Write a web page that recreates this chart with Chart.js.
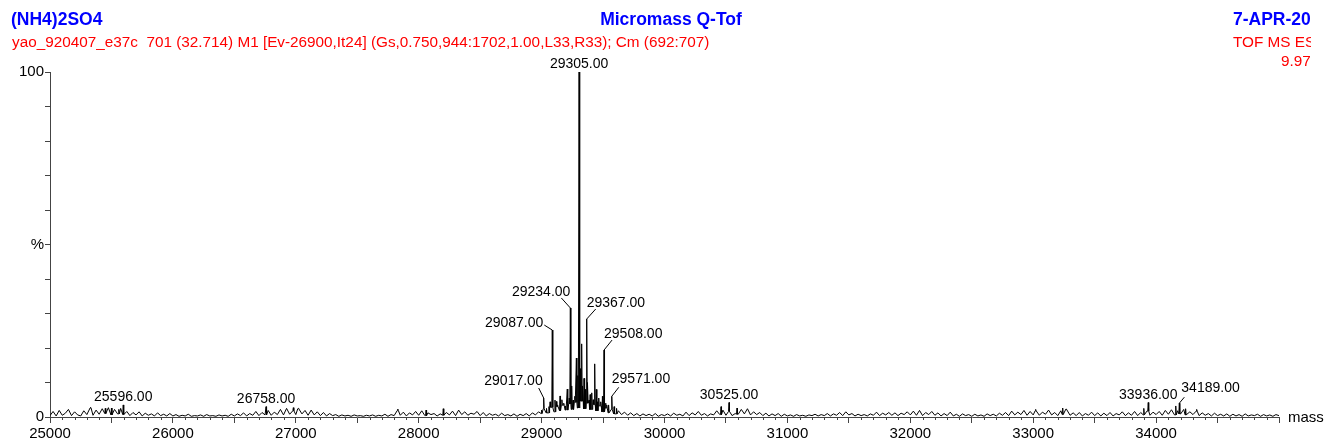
<!DOCTYPE html>
<html>
<head>
<meta charset="utf-8">
<title>Micromass Q-Tof spectrum</title>
<script src="https://cdn.jsdelivr.net/npm/chart.js@4.4.1/dist/chart.umd.min.js"></script>
<style>
  html, body { margin: 0; padding: 0; background: #fff; }
  #wrap { position: relative; width: 1325px; height: 443px; }
</style>
</head>
<body>
<div id="wrap"><canvas id="spec"></canvas></div>
<script>
// ---- data ----
const massMin   = 25000;
const massMax   = 35000;
const noiseStep = 25;

// background noise, % intensity, one value every 25 Da from 25000 to 35000
const noise = [
  0.4,1.6,0.3,1.9,0.5,1.1,2.2,0.4,1.5,0.6, 0.3,1.8,0.7,2.6,0.5,2.0,0.8,2.4,1.0,2.7, 0.6,2.2,0.9,2.5,0.7,1.6,0.4,1.3,0.6,1.5, 0.3,1.1,0.5,0.9,0.3,1.2,0.4,0.8,0.3,1.0,
  0.3,0.7,0.2,0.5,0.3,0.8,0.2,0.4,0.3,0.6, 0.2,0.7,0.3,0.4,0.2,0.6,0.3,0.5,0.2,0.8, 0.3,0.9,0.4,1.2,0.3,1.0,0.5,1.6,0.4,1.3, 0.6,1.9,0.5,1.4,0.7,2.2,0.6,2.5,0.8,1.8,
  0.7,2.4,0.9,1.9,0.5,2.0,0.6,1.5,0.4,1.3, 0.3,1.0,0.4,0.7,0.2,0.6,0.3,0.5,0.2,0.6, 0.3,0.4,0.2,0.5,0.3,0.6,0.2,0.5,0.3,0.8, 0.2,0.7,0.4,1.9,0.5,1.4,0.3,1.2,0.6,1.6,
  0.5,1.8,0.4,1.2,0.7,1.0,0.3,0.9,0.5,1.3, 0.6,1.7,0.4,2.0,0.7,1.5,0.5,1.1,0.8,1.6, 0.4,1.3,0.3,1.0,0.5,0.8,0.3,1.1,0.4,0.7, 0.3,0.9,0.2,0.8,0.4,1.0,0.3,1.2,0.6,1.5,
  1.0,2.4,1.2,2.8,1.5,3.0,1.8,3.4,2.0,3.8, 2.2,4.2,2.6,4.6,2.4,4.0,2.2,3.6,1.8,3.2, 1.5,2.6,1.2,2.2,0.9,1.8,0.7,1.4,0.5,1.2, 0.4,1.0,0.3,0.9,0.4,0.8,0.3,1.0,0.2,0.7,
  0.4,0.9,0.3,1.1,0.5,0.8,0.3,1.4,0.4,1.2, 0.6,1.6,0.5,1.0,0.3,0.9,0.6,1.8,0.7,2.0, 0.5,1.6,0.4,1.0,0.8,2.2,0.9,2.4,0.6,1.5, 0.7,1.3,0.4,1.1,0.3,0.9,0.4,1.0,0.2,0.8,
  0.3,0.6,0.2,0.7,0.3,0.5,0.2,0.6,0.4,0.8, 0.3,0.7,0.4,1.0,0.3,0.9,0.5,1.3,0.4,1.5, 0.6,1.0,0.3,0.8,0.4,0.7,0.3,0.9,0.5,1.4, 0.4,1.1,0.6,1.3,0.5,1.2,0.4,1.1,0.7,1.5,
  0.6,1.7,0.5,1.9,0.4,1.3,0.7,1.6,0.5,1.2, 0.3,1.0,0.4,1.4,0.3,0.8,0.2,0.9,0.4,0.7, 0.2,0.8,0.3,0.6,0.2,0.9,0.4,0.8,0.3,1.1, 0.5,1.3,0.4,1.7,0.6,1.4,0.7,1.9,0.5,1.6,
  0.6,1.8,0.5,1.4,0.8,2.0,0.6,1.3,0.4,1.8, 0.7,2.3,0.5,1.2,0.4,1.3,0.3,1.0,0.5,1.4, 0.4,1.2,0.3,1.1,0.4,1.3,0.3,1.0,0.6,1.5, 0.4,1.2,0.5,1.6,0.4,1.3,0.6,1.7,0.5,1.4,
  0.7,1.6,0.5,1.9,0.8,2.1,0.6,1.8,0.9,2.2, 0.6,1.5,0.7,1.7,0.4,1.2,0.5,1.0,0.3,1.1, 0.4,0.8,0.3,0.9,0.2,0.8,0.3,0.7,0.2,0.9, 0.3,0.6,0.4,0.8,0.2,0.7,0.3,0.6,0.2,0.7,
  0.4
];

// discrete peaks (mass, % intensity)
const peakMass = [25330, 25450, 25500, 25560, 25596, 26758, 26980, 27020, 27830, 28060, 28200,
                  29000, 29017, 29040, 29060, 29069, 29087, 29109, 29120, 29130, 29150, 29165, 29180,
                  29195, 29209, 29225, 29234, 29245, 29256, 29270, 29283, 29295, 29305, 29315, 29326,
                  29335, 29345, 29355, 29367, 29375, 29386, 29395, 29408, 29420, 29432, 29445, 29454,
                  29465, 29481, 29495, 29508, 29520, 29530, 29545, 29571, 29590, 29610,
                  30460, 30525, 30590, 33020, 33240, 33270, 33900, 33936, 34160, 34189, 34240, 34330];
const peakInt  = [2.8, 2.5, 2.6, 2.2, 3.5, 3.0, 2.7, 2.5, 2.3, 2.0, 2.4,
                  2.0, 5.5, 2.5, 3.0, 4.4, 25.2, 4.9, 4.5, 3.5, 6.1, 5.0, 4.0,
                  3.2, 8.1, 5.5, 31.6, 9.0, 4.9, 6.0, 17.1, 12.0, 100, 14.0, 21.2,
                  9.0, 11.2, 8.0, 28.4, 10.0, 4.9, 6.5, 7.0, 5.0, 15.4, 8.0, 4.4,
                  5.5, 4.4, 6.0, 19.4, 4.0, 3.5, 3.5, 6.0, 3.0, 2.5,
                  3.0, 4.2, 2.6, 2.2, 2.6, 2.3, 2.5, 4.2, 3.2, 4.0, 2.4, 2.2];

const labelMass = [25596, 26758, 29017, 29087, 29234, 29305, 29367, 29508, 29571, 30525, 33936, 34189];
const yTickLabels = { 100: '100', 50: '%', 0: '0' };

// ---- build the profile ----
const pts = [];
noise.forEach((v, i) => {
  const m = massMin + i * noiseStep;
  if (!peakMass.some(p => Math.abs(p - m) < 6)) pts.push({ x: m, y: v });
});
peakMass.forEach((m, i) => {
  const b = noise[Math.round((m - massMin) / noiseStep)];
  pts.push({ x: m - 4, y: b }, { x: m, y: peakInt[i] }, { x: m + 4, y: b });
});
pts.sort((a, b) => a.x - b.x);

const FONT = '"Liberation Sans", Arial, sans-serif';

// label placement: [align, dx, dy, leaderX, leaderY] relative to peak top (px)
const labelPlace = {
  29017: ['right', -1, -13, -5, -10],
  29087: ['right', -9, -3, -8, -5],
  29234: ['right', 0, -12, -9, -10],
  29367: ['left', 0, -12, 9, -10],
  29508: ['left', 0, -12, 8, -10],
  29571: ['left', 0, -13, 7, -9],
  34189: ['left', 2, -11, 5, -6]
};

const peakLabels = {
  id: 'peakLabels',
  afterDatasetsDraw(chart) {
    const { ctx, scales: { x, y } } = chart;
    ctx.save();
    ctx.font = '14px ' + FONT;
    ctx.fillStyle = '#000';
    ctx.strokeStyle = '#000';
    ctx.lineWidth = 1;
    ctx.textBaseline = 'alphabetic';
    labelMass.forEach(m => {
      const h = peakInt[peakMass.indexOf(m)];
      const px = x.getPixelForValue(m), py = y.getPixelForValue(h);
      const txt = m.toFixed(2);
      const pl = labelPlace[m];
      if (!pl) {
        ctx.textAlign = 'center';
        ctx.fillText(txt, px, py - 4);
      } else {
        ctx.textAlign = pl[0];
        ctx.fillText(txt, px + pl[1], py + pl[2]);
        ctx.beginPath();
        ctx.moveTo(px + pl[3], py + pl[4]);
        ctx.lineTo(px, py);
        ctx.stroke();
      }
    });
    ctx.restore();
  }
};

const decor = {
  id: 'decor',
  afterDraw(chart) {
    const { ctx, chartArea, scales: { x } } = chart;
    ctx.save();
    // minor ticks every 100 Da
    ctx.strokeStyle = '#444';
    ctx.lineWidth = 1;
    ctx.beginPath();
    for (let m = massMin; m <= massMax; m += 100) {
      if (m % 500 === 0) continue;
      const px = Math.round(x.getPixelForValue(m)) + 0.5;
      ctx.moveTo(px, chartArea.bottom);
      ctx.lineTo(px, chartArea.bottom + 3);
    }
    ctx.stroke();

    ctx.textBaseline = 'middle';
    ctx.fillStyle = '#000';
    ctx.font = '15px ' + FONT;
    ctx.textAlign = 'left';
    ctx.fillText('mass', chartArea.right + 9, chartArea.bottom + 1);

    ctx.fillStyle = '#0000ff';
    ctx.font = 'bold 17.5px ' + FONT;
    ctx.fillText('(NH4)2SO4', 11, 20);
    ctx.textAlign = 'center';
    ctx.fillText('Micromass Q-Tof', 671, 20);

    ctx.fillStyle = '#ff0000';
    ctx.font = '15.3px ' + FONT;
    ctx.textAlign = 'left';
    ctx.fillText('yao_920407_e37c  701 (32.714) M1 [Ev-26900,It24] (Gs,0.750,944:1702,1.00,L33,R33); Cm (692:707)', 12, 43);

    ctx.beginPath();
    ctx.rect(0, 0, 1311, 70);
    ctx.clip();
    ctx.fillStyle = '#0000ff';
    ctx.font = 'bold 17.5px ' + FONT;
    ctx.fillText('7-APR-2002', 1233, 20);
    ctx.fillStyle = '#ff0000';
    ctx.font = '15.3px ' + FONT;
    ctx.fillText('TOF MS ES+', 1233, 43);
    ctx.fillText('9.97e3', 1281, 62);
    ctx.restore();
  }
};

new Chart(document.getElementById('spec'), {
  type: 'line',
  data: {
    datasets: [{
      data: pts,
      borderColor: '#000',
      borderWidth: 1,
      pointRadius: 0,
      tension: 0,
      fill: false
    }]
  },
  options: {
    responsive: true, maintainAspectRatio: false, animation: false,
    layout: { padding: { top: 72, right: 46, left: 0, bottom: 0 } },
    plugins: { legend: { display: false }, tooltip: { enabled: false } },
    scales: {
      x: {
        type: 'linear', min: massMin, max: massMax,
        afterFit: s => { s.height = 26; },
        border: { color: '#444', width: 1 },
        grid: { drawOnChartArea: false, tickLength: 6, color: '#444' },
        ticks: {
          stepSize: 500, autoSkip: false, maxRotation: 0, padding: 2,
          color: '#000', font: { family: FONT, size: 15 },
          callback: v => (v % 1000 === 0 && v < massMax) ? String(v) : ''
        }
      },
      y: {
        min: 0, max: 100,
        afterFit: s => { s.width = 50; },
        border: { color: '#444', width: 1 },
        grid: { drawOnChartArea: false, tickLength: 5, color: '#444' },
        ticks: {
          stepSize: 10, autoSkip: false, padding: 1,
          color: '#000', font: { family: FONT, size: 15 },
          callback: v => yTickLabels[v] || ''
        }
      }
    }
  },
  plugins: [peakLabels, decor]
});
</script>
</body>
</html>
